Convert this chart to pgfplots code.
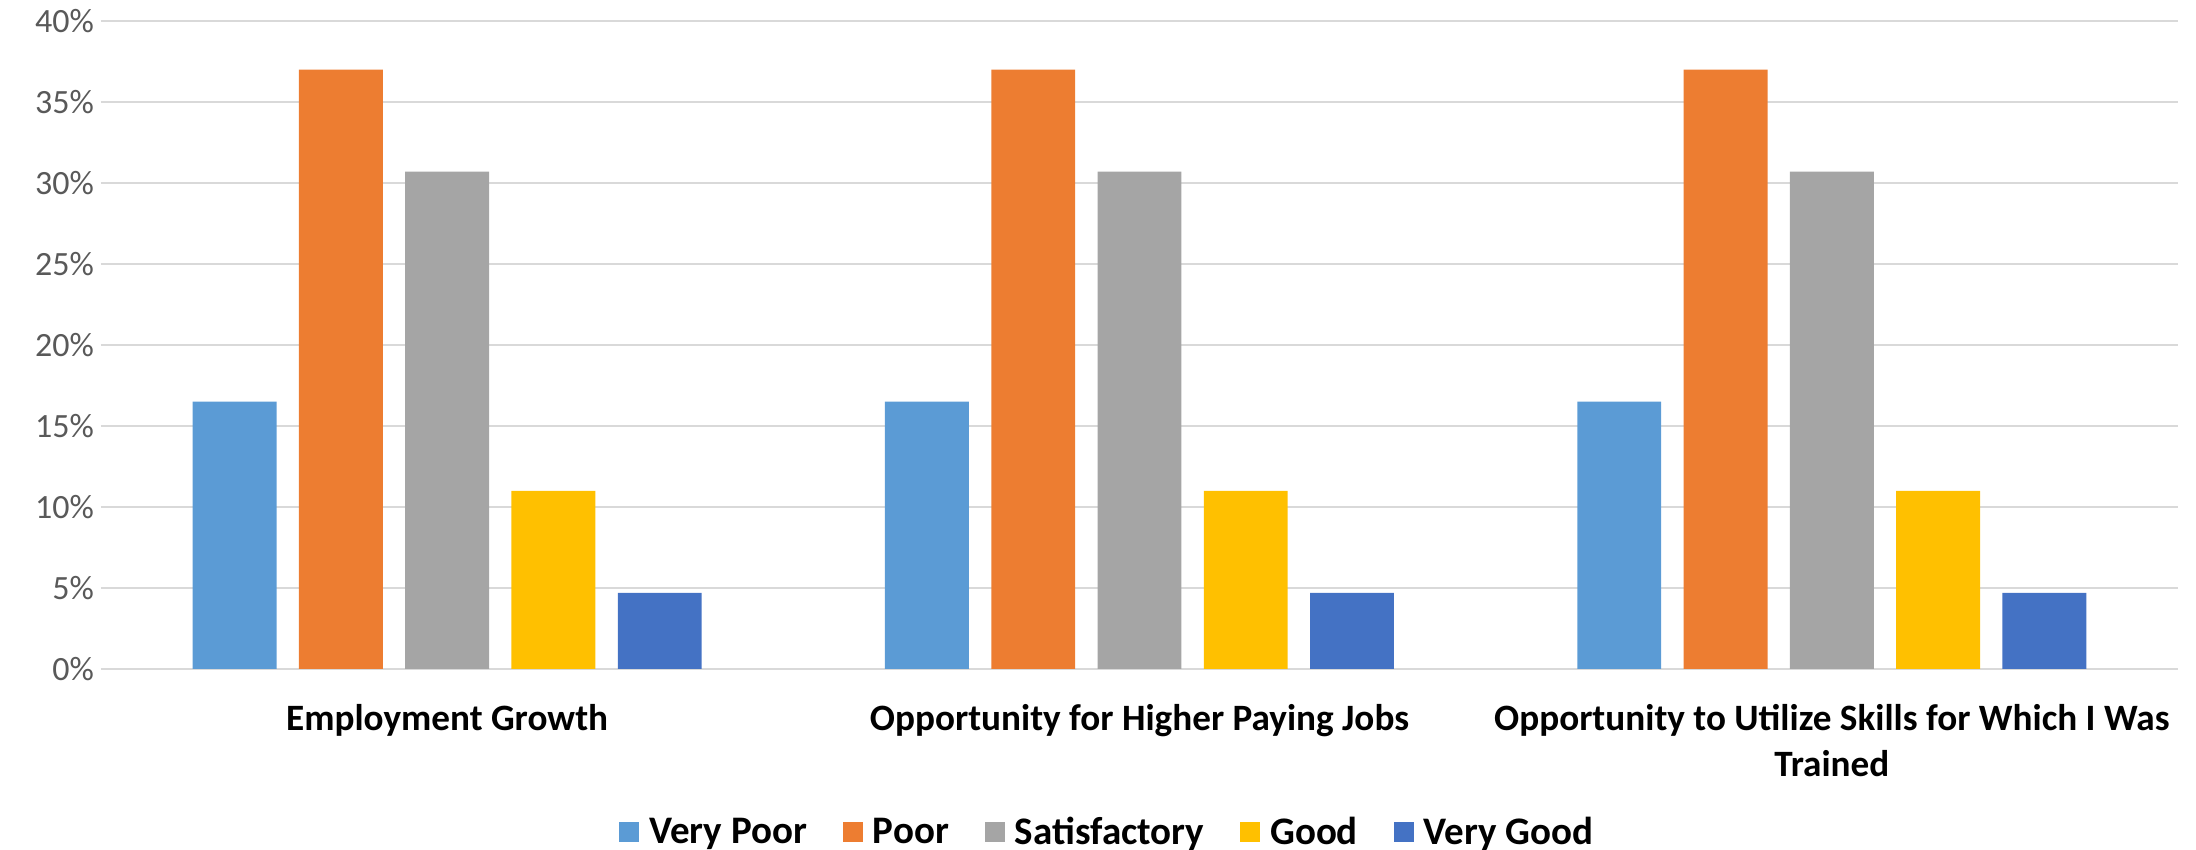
\documentclass[border=0pt]{standalone}
\usepackage{pgfplots}
\pgfplotsset{compat=1.18}
\usepackage{fontspec}
\setmainfont{Carlito}
\definecolor{cVP}{HTML}{5B9BD5}
\definecolor{cP}{HTML}{ED7D31}
\definecolor{cS}{HTML}{A5A5A5}
\definecolor{cG}{HTML}{FFC000}
\definecolor{cVG}{HTML}{4472C4}
\definecolor{gridc}{HTML}{D9D9D9}
\definecolor{tickc}{HTML}{595959}
\begin{document}
\begin{tikzpicture}
\useasboundingbox (0,0) rectangle (1098pt,425pt);
\begin{axis}[
  at={(50.5pt,90.5pt)}, anchor=south west,
  scale only axis, width=1038.5pt, height=324pt,
  ybar, bar width=0.1212,
  xmin=-0.5, xmax=2.5, ymin=0, ymax=40,
  xtick={0,1,2},
  xticklabels={{Employment Growth},{Opportunity for Higher Paying Jobs},{Opportunity to Utilize Skills for Which I Was\\Trained}},
  xticklabel style={align=center, font=\fontsize{18.6}{23}\selectfont\bfseries, yshift=-14pt},
  ytick={0,5,...,40},
  yticklabel={\pgfmathprintnumber{\tick}\%},
  yticklabel style={font=\fontsize{17}{20}\selectfont, text=tickc},
  /pgf/number format/assume math mode=true,
  major tick length=0pt,
  ymajorgrids, grid style={gridc, line width=1pt},
  axis line style={draw=none},
  legend style={at={(0.485,-0.252)}, anchor=center, draw=none, legend columns=-1,
    font=\fontsize{19.5}{22}\selectfont\bfseries,
    /tikz/every even column/.append style={column sep=16pt}},
  legend image code/.code={\fill[#1,draw=none] (0pt,-5pt) rectangle (10pt,5pt); \path (13pt,0pt);},
]
\addplot[fill=cVP, draw=none, bar shift=-0.307] coordinates {(0,16.5) (1,16.5) (2,16.5)};
\addplot[fill=cP, draw=none, bar shift=-0.1535] coordinates {(0,37.0) (1,37.0) (2,37.0)};
\addplot[fill=cS, draw=none, bar shift=0] coordinates {(0,30.7) (1,30.7) (2,30.7)};
\addplot[fill=cG, draw=none, bar shift=0.1535] coordinates {(0,11.0) (1,11.0) (2,11.0)};
\addplot[fill=cVG, draw=none, bar shift=0.307] coordinates {(0,4.7) (1,4.7) (2,4.7)};
\legend{Very Poor, Poor, Satisfactory, Good, Very Good}
\end{axis}
\end{tikzpicture}
\end{document}
